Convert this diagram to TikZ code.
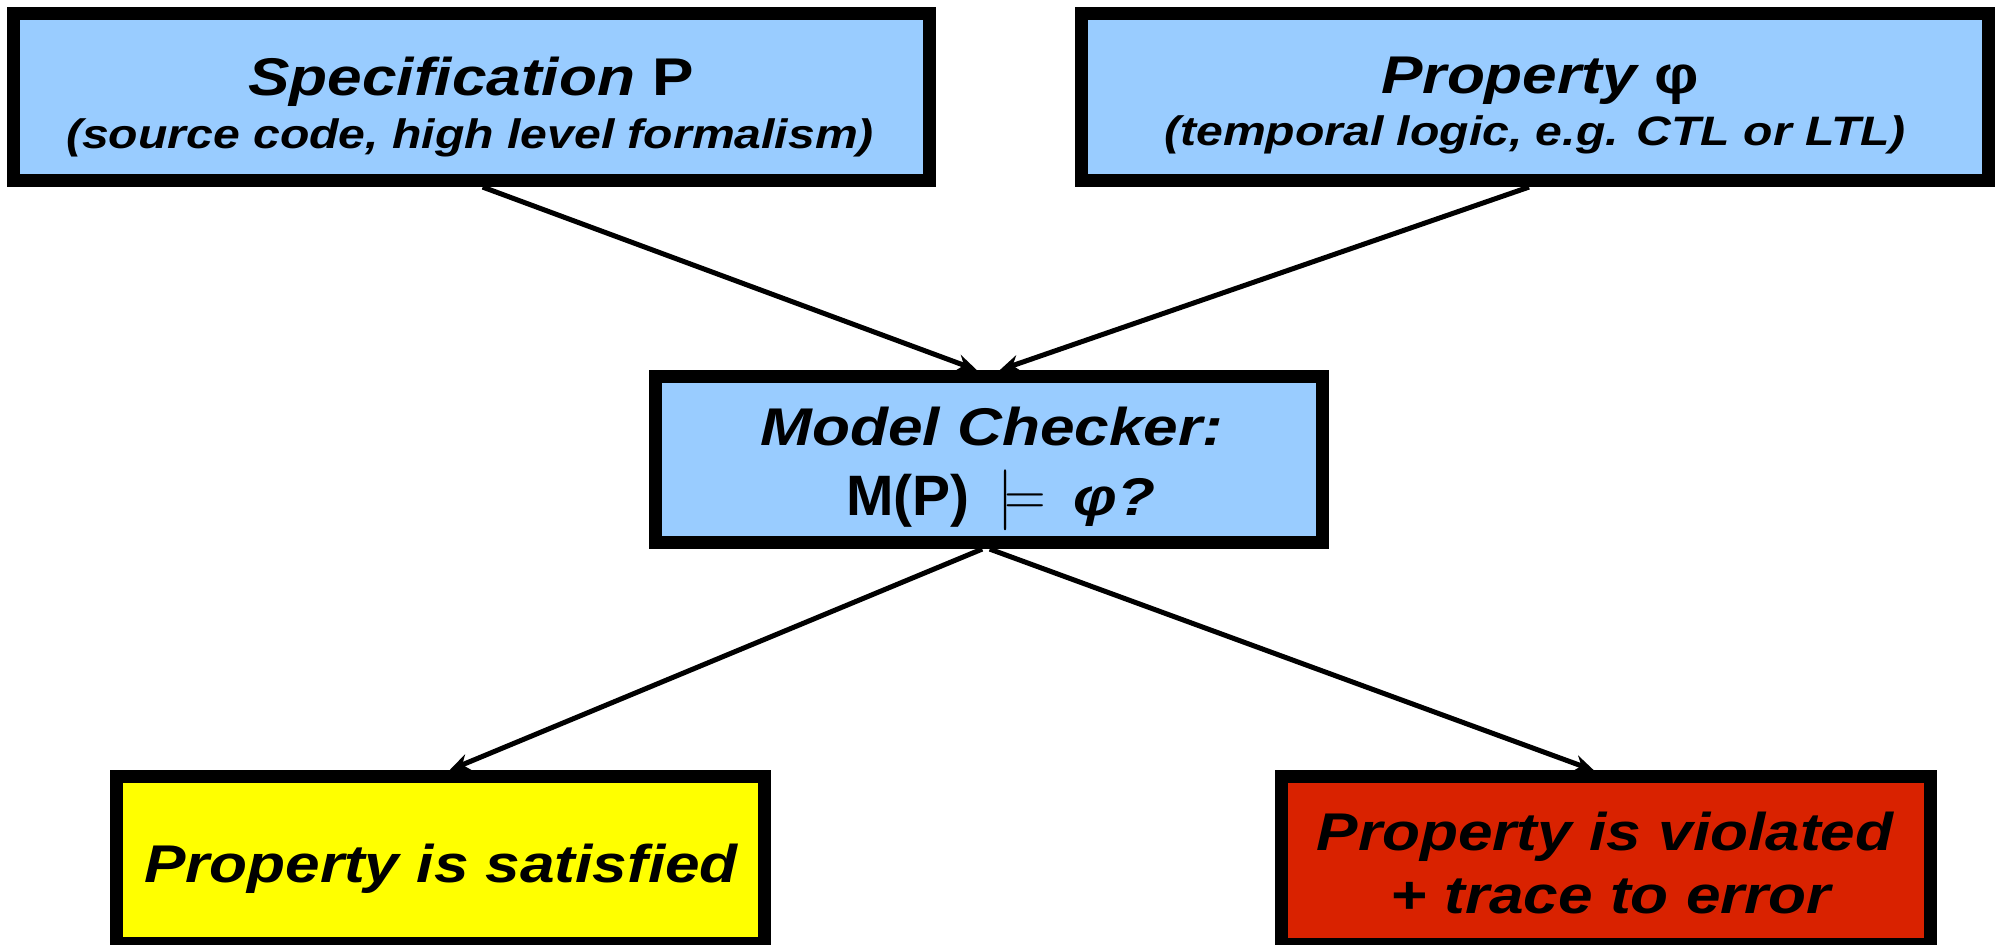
\documentclass[tikz,border=0pt]{standalone}
\usepackage{fontspec}
\setmainfont{Liberation Sans}[FakeStretch=1.17]
\newfontfamily\plainsans{Liberation Sans}
\usetikzlibrary{arrows.meta,calc}
\definecolor{boxblue}{RGB}{153,204,255}
\definecolor{boxyellow}{RGB}{255,255,0}
\definecolor{boxred}{RGB}{217,34,0}
\newcommand\bigsz{\fontsize{15.1pt}{18pt}\selectfont}
\newcommand\smsz{\fontsize{11.7pt}{14pt}\selectfont}
\tikzset{
  boxnode/.style={draw=black, line width=0.13cm, rectangle, inner sep=0pt},
  txt/.style={inner sep=0pt, anchor=base},
  conn/.style={draw=black, line width=0.05cm, -{Stealth[length=0.2cm,width=0.17cm]}}
}
\begin{document}
\begin{tikzpicture}[x=0.01cm, y=-0.01cm]
\clip (0,0) rectangle (2000,944);
\fill[white] (0,0) rectangle (2000,944);
% boxes
\node[boxnode, fill=boxblue, minimum width=9.16cm, minimum height=1.67cm] (spec) at (471.5,97) {};
\node[boxnode, fill=boxblue, minimum width=9.07cm, minimum height=1.67cm] (prop) at (1535,97) {};
\node[boxnode, fill=boxblue, minimum width=6.67cm, minimum height=1.66cm] (mc) at (989,459.5) {};
\node[boxnode, fill=boxyellow, minimum width=6.48cm, minimum height=1.67cm] (sat) at (440.5,860) {};
\node[boxnode, fill=boxred, minimum width=6.49cm, minimum height=1.67cm] (viol) at (1606,860.5) {};
% texts
\node[txt] (specA) at (471,95) {\bigsz\bfseries\itshape Specification \upshape P};
\node[txt] (specB) at (470,148) {\smsz\bfseries\itshape (source code, high level formalism)};
\node[txt] (propA) at (1540,93) {\bigsz\bfseries\itshape Property \upshape φ};
\node[txt] (propB) at (1535,145) {\smsz\bfseries\itshape (temporal logic, e.g. CTL or LTL)};
\node[txt] (mcA) at (992,445) {\bigsz\bfseries\itshape Model Checker:};
\node[txt] (mcB) at (1001,515) {{\fontsize{16.2pt}{19pt}\selectfont\plainsans\bfseries M(P)}\hspace{0.28cm}{\fontsize{18.5pt}{20pt}\selectfont\scalebox{0.95}[1]{$\models$}}\hspace{0.28cm}{\bigsz\bfseries\itshape φ?}};
\node[txt] (satA) at (441,882) {\bigsz\bfseries\itshape Property is satisfied};
\node[txt] (violA) at (1605,850) {\bigsz\bfseries\itshape Property is violated};
\node[txt] (violB) at (1611,913) {\bigsz\bfseries\itshape + trace to error};
% connectors
\draw[conn] ($(spec.south west)!0.512!(spec.south east)$) -- ($(mc.north west)!0.482!(mc.north east)$);
\draw[conn] ($(prop.south west)!0.4935!(prop.south east)$) -- ($(mc.north west)!0.516!(mc.north east)$);
\draw[conn] ($(mc.south west)!0.49!(mc.south east)$) -- ($(sat.north west)!0.514!(sat.north east)$);
\draw[conn] ($(mc.south west)!0.501!(mc.south east)$) -- ($(viol.north west)!0.482!(viol.north east)$);
\end{tikzpicture}
\end{document}
